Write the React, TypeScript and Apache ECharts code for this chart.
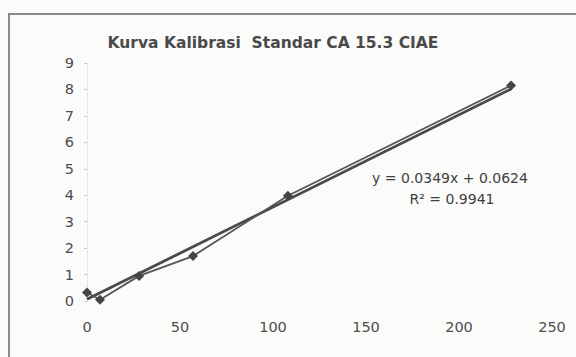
import React, { useEffect, useRef } from "react";
import * as echarts from "echarts";

const concentrations = [0, 7, 28, 57, 108, 228];
const counts = [0.32, 0.05, 0.95, 1.7, 3.98, 8.15];
const slope = 0.0349;
const intercept = 0.0624;
const rSquared = "0.9941";
const titleText = "Kurva Kalibrasi  Standar CA 15.3 CIAE";
const xTicks = [0, 50, 100, 150, 200, 250];
const yTicks = [0, 1, 2, 3, 4, 5, 6, 7, 8, 9];

const FONT = "DejaVu Sans, Liberation Sans, Arial, sans-serif";

export default function App() {
  const ref = useRef<HTMLDivElement>(null);
  useEffect(() => {
    if (!ref.current) return;
    const chart = echarts.init(ref.current, null, { renderer: "svg" });
    const dataPts = concentrations.map((x, i) => [x, counts[i]]);
    const xMin = concentrations[0];
    const xMax = concentrations[concentrations.length - 1];
    const trend = [
      [xMin, slope * xMin + intercept],
      [xMax, slope * xMax + intercept],
    ];
    chart.setOption({
      animation: false,
      backgroundColor: "#fbfbfa",
      textStyle: { fontFamily: FONT },
      title: {
        text: titleText,
        left: 268,
        textAlign: "center",
        top: 30,
        textStyle: { fontSize: 15.5, fontWeight: "bold", color: "#4a4a4a", fontFamily: FONT },
      },
      grid: { left: 87, right: 24, top: 63, bottom: 56, containLabel: false },
      xAxis: {
        type: "value",
        min: xTicks[0],
        max: xTicks[xTicks.length - 1],
        interval: 50,
        axisLine: { show: false },
        axisTick: { show: false },
        splitLine: { show: false },
        axisLabel: { color: "#4d4d4d", fontSize: 14.5, margin: 18 },
      },
      yAxis: {
        type: "value",
        min: yTicks[0],
        max: yTicks[yTicks.length - 1],
        interval: 1,
        axisLine: { show: true, lineStyle: { color: "#e6e6e6", width: 1 } },
        axisTick: { show: true, length: 3, inside: false, lineStyle: { color: "#c8c8c8" } },
        splitLine: { show: false },
        axisLabel: { color: "#4d4d4d", fontSize: 14.5, margin: 13 },
      },
      series: [
        {
          type: "line",
          data: dataPts,
          symbol: "diamond",
          symbolSize: 10,
          itemStyle: { color: "#454545" },
          lineStyle: { color: "#555555", width: 1.8 },
          z: 3,
        },
        {
          type: "line",
          data: trend,
          symbol: "none",
          lineStyle: { color: "#4a4a4a", width: 2.8 },
          z: 2,
        },
      ],
      graphic: [
        {
          type: "rect",
          shape: { x: 9, y: 14, width: 600, height: 400 },
          style: { fill: "none", stroke: "#8a8a8a", lineWidth: 2 },
          silent: true,
        },
        {
          type: "text",
          x: 450,
          y: 178,
          style: {
            text: `y = ${slope}x + ${intercept}`,
            fontSize: 14,
            fill: "#3f3f3f",
            align: "center",
            verticalAlign: "middle",
            fontFamily: FONT,
          },
        },
        {
          type: "text",
          x: 452,
          y: 199,
          style: {
            text: `R² = ${rSquared}`,
            fontSize: 14,
            fill: "#3f3f3f",
            align: "center",
            verticalAlign: "middle",
            fontFamily: FONT,
          },
        },
      ],
    });
    return () => chart.dispose();
  }, []);
  return (
    <div
      ref={ref}
      style={{ position: "fixed", left: 0, top: 0, width: 576, height: 357 }}
    />
  );
}
